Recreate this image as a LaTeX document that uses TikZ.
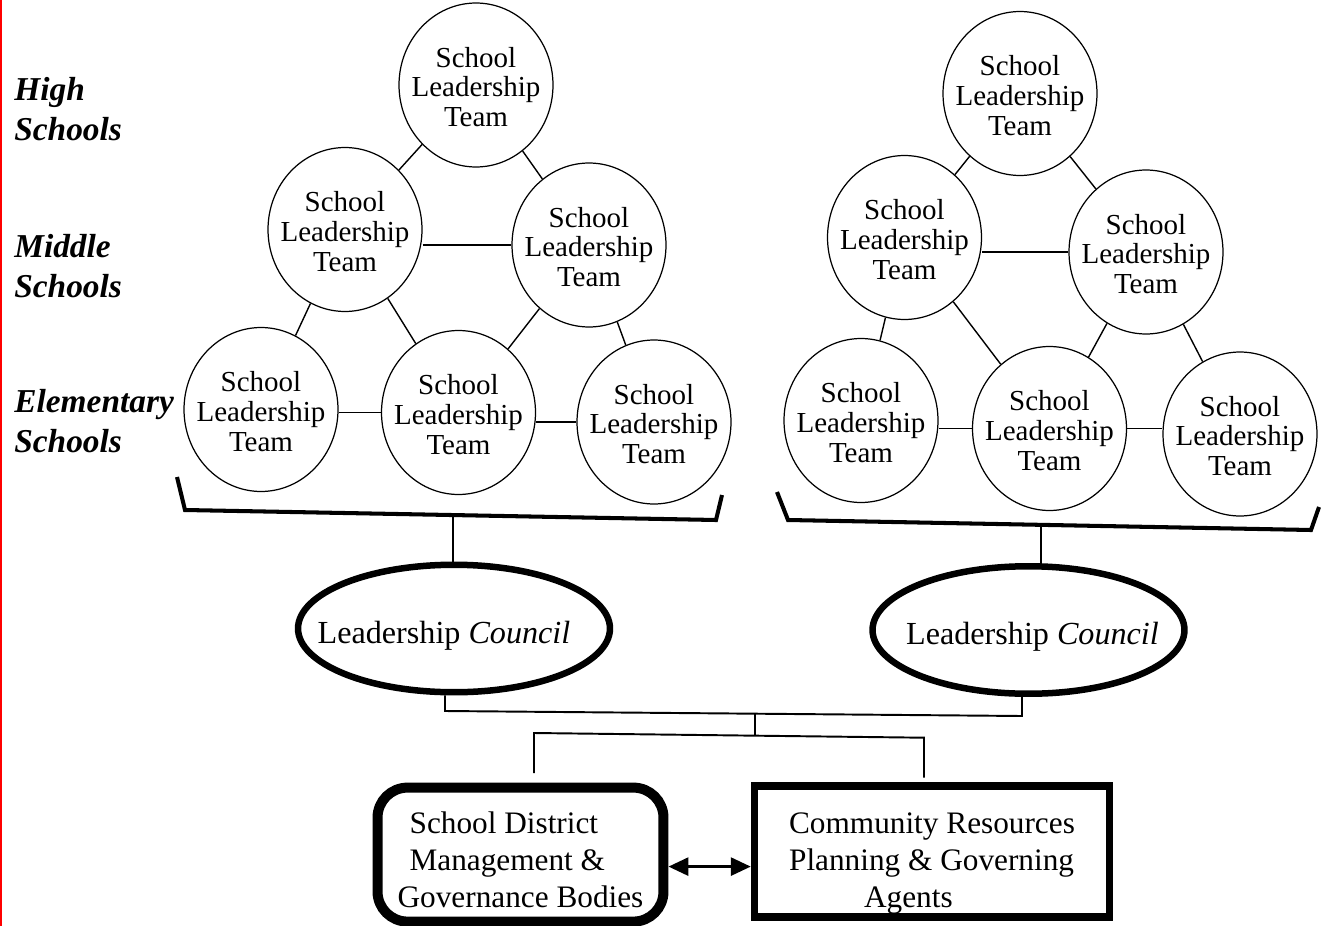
\documentclass[tikz,border=0pt]{standalone}
\usepackage{fontspec}
\setmainfont{Liberation Serif}
\usetikzlibrary{shapes.geometric,arrows.meta}
\newcommand{\slt}{\makebox[0pt]{\raisebox{-0.27cm}[0pt][0pt]{\begin{tabular}{@{}c@{}}School\\Leadership\\Team\end{tabular}}}}
\newcommand{\lcouncil}[1][0cm]{\makebox[0pt]{\hspace*{#1}\raisebox{-0.29cm}[0pt][0pt]{Leadership \textit{Council}}}}

\begin{document}
\begin{tikzpicture}[x=0.02cm, y=-0.02cm,
    team/.style={draw, ellipse, line width=0.7pt, minimum width=3.08cm, minimum height=3.28cm, inner sep=0pt, font=\fontsize{16.5}{17}\selectfont},
    tie/.style={line width=0.8pt},
    bracket/.style={line width=2.3pt},
    link/.style={line width=1.1pt},
    council/.style={draw, ellipse, line width=3.7pt, minimum width=6.24cm, minimum height=2.55cm, inner sep=0pt, font=\fontsize{18.3}{22}\selectfont},
    level/.style={align=left, anchor=west, inner sep=0pt, font=\fontsize{19}{22.8}\selectfont\bfseries\itshape},
    distbox/.style={draw, rounded corners=0.6cm, line width=5.7pt, minimum width=5.72cm, minimum height=2.68cm, inner sep=0pt, font=\fontsize{17.8}{21}\selectfont},
    commbox/.style={draw, line width=4.3pt, minimum width=7.1cm, minimum height=2.62cm, inner sep=0pt, font=\fontsize{17.8}{21}\selectfont}]
        \useasboundingbox (0,0) rectangle (1322,926);
        \draw[red, line width=0.05cm] (1.2,0) -- (1.2,926);

        \node[level] (high) at (14,109.5) {High\\Schools};
        \node[level] (middle) at (14,266.5) {Middle\\Schools};
        \node[level] (elem) at (14,421) {Elementary\\Schools};

        % left cluster
        \node[team] (H1) at (476,85) {\slt};
        \node[team] (ML1) at (345,229.5) {\slt};
        \node[team] (MR1) at (589,245) {\slt};
        \node[team] (EL1) at (261,409.5) {\slt};
        \node[team] (EM1) at (458.5,412.5) {\slt};
        \node[team] (ER1) at (654,422) {\slt};
        \draw[tie] (H1) -- (ML1);
        \draw[tie] (H1) -- (MR1);
        \draw[tie] (MR1.west -| ML1.east) -- (MR1.west);
        \draw[tie] (ML1) -- (EL1);
        \draw[tie] (ML1) -- (EM1);
        \draw[tie] (MR1) -- (EM1);
        \draw[tie] (MR1) -- (ER1);
        \draw[tie] (EM1.west -| EL1.east) -- (EM1.west);
        \draw[tie] (ER1.west -| EM1.east) -- (ER1.west);

        % right cluster
        \node[team] (H2) at (1020,93.5) {\slt};
        \node[team] (ML2) at (904.5,237.5) {\slt};
        \node[team] (MR2) at (1146,252) {\slt};
        \node[team] (EL2) at (861,420.5) {\slt};
        \node[team] (EM2) at (1049.5,428.5) {\slt};
        \node[team] (ER2) at (1240,434) {\slt};
        \draw[tie] (H2) -- (ML2);
        \draw[tie] (H2) -- (MR2);
        \draw[tie] (MR2.west -| ML2.east) -- (MR2.west);
        \draw[tie] (ML2) -- (EL2);
        \draw[tie] (ML2) -- (EM2);
        \draw[tie] (MR2) -- (EM2);
        \draw[tie] (MR2) -- (ER2);
        \draw[tie] (EM2.west -| EL2.east) -- (EM2.west);
        \draw[tie] (EM2.east) -- (EM2.east -| ER2.west);

        % brackets
        \coordinate (B1a) at (177,477);
        \coordinate (B1b) at (185,510);
        \coordinate (B1c) at (716,520);
        \coordinate (B1d) at (722,495);
        \draw[bracket] (B1a) -- (B1b) -- (B1c) -- (B1d);
        \coordinate (B2a) at (777,492);
        \coordinate (B2b) at (788,520);
        \coordinate (B2c) at (1311,530);
        \coordinate (B2d) at (1319,507);
        \draw[bracket] (B2a) -- (B2b) -- (B2c) -- (B2d);

        \node[council] (LC1) at (454,628.5) {\lcouncil[-0.4cm]};
        \node[council] (LC2) at (1028.5,630) {\lcouncil[0.16cm]};
        \coordinate (B1) at (453,515);
        \coordinate (B2) at (1041,525);
        \draw[link] (B1) -- (B1 |- LC1.north);
        \draw[link] (B2) -- (B2 |- LC2.north);

        % joining lines
        \coordinate (J1) at (445,711);
        \coordinate (J2) at (1022,716);
        \draw[link] (J1 |- LC1.south) -- (J1) -- (J2) -- (J2 |- LC2.south);
        \coordinate (J3) at (755,713.7);
        \coordinate (J4) at (755,735.3);
        \draw[link] (J3) -- (J4);
        \coordinate (K1) at (534,733);
        \coordinate (K2) at (924,737.7);
        \coordinate (K3) at (534,773);
        \coordinate (K4) at (924,777.7);
        \draw[link] (K3) -- (K1) -- (K2) -- (K4);

        \node[distbox] (SD) at (520.5,854.6) {\raisebox{-0.32cm}[0pt][0pt]{\begin{tabular}{@{}l@{}}\hspace*{0.24cm}School District\\ \hspace*{0.24cm}Management \&\\ Governance Bodies\end{tabular}}};
        \node[commbox] (CR) at (932,851.5) {\raisebox{-0.38cm}[0pt][0pt]{\begin{tabular}{@{}l@{}}Community Resources\\ Planning \& Governing\\ \hspace*{1.5cm}Agents\end{tabular}}};
        \coordinate (A1) at ([yshift=-0.24cm]SD.east);
        \draw[<->, >={Triangle[length=0.4cm, width=0.36cm]}, line width=1.7pt] (A1) -- (A1 -| CR.west);
\end{tikzpicture}
\end{document}
